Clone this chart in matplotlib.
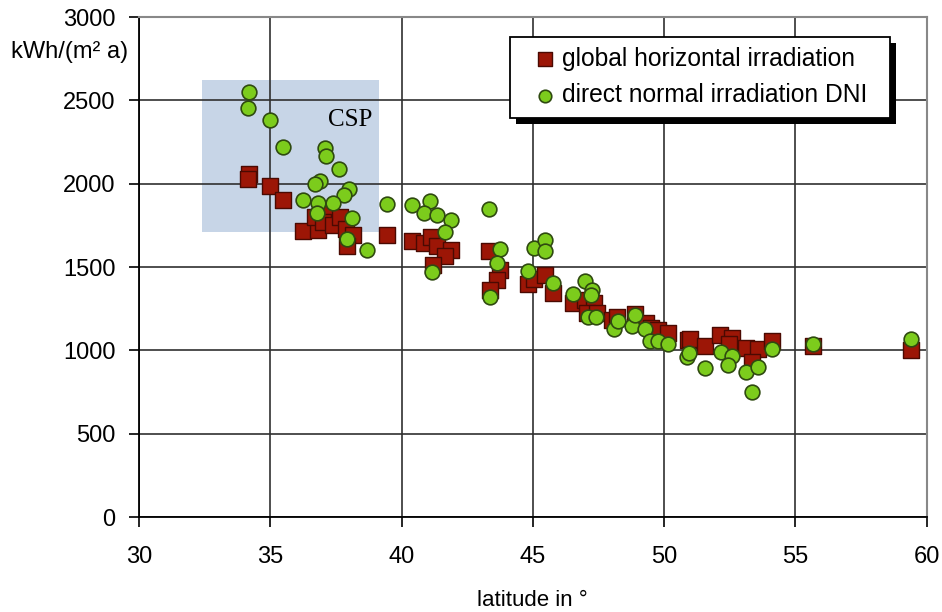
import matplotlib
matplotlib.use("Agg")
import matplotlib.pyplot as plt
from matplotlib.patches import Rectangle

plt.rcParams['font.family'] = ['Liberation Sans', 'DejaVu Sans']

# ---- data ----
ghi_lat = [34.2, 34.14, 34.98, 35.48, 36.24, 36.82, 36.69, 37.13, 37.0, 37.39,
           37.64, 37.9, 38.15, 37.94, 39.43,
           40.38, 40.84, 41.12, 41.35, 41.9, 41.65, 41.2, 43.32, 43.76, 43.63,
           43.37, 44.81, 45.06, 45.48, 45.78, 46.52, 46.97, 47.32, 47.07, 47.45,
           48.0, 48.2, 48.91, 49.3, 49.49, 49.77, 50.16, 50.9, 50.97, 51.55,
           52.14, 52.57, 52.48, 53.12, 53.59, 53.34, 54.11, 55.69, 59.4]
ghi_val = [2058, 2030, 1988, 1902, 1716, 1722, 1800, 1842, 1772, 1755,
           1802, 1730, 1692, 1625, 1692,
           1656, 1646, 1682, 1627, 1602, 1568, 1512, 1596, 1483, 1423,
           1365, 1396, 1428, 1452, 1342, 1282, 1304, 1282, 1226, 1222,
           1182, 1202, 1220, 1162, 1132, 1122, 1107, 1064, 1068, 1027,
           1090, 1072, 1038, 1016, 1007, 933, 1058, 1026, 1004]

dni_lat = [34.2, 34.15, 34.98, 35.48, 37.10, 37.12, 37.62, 36.88, 36.69, 38.0,
           37.81, 36.24, 36.82, 37.39, 36.79, 38.11, 37.94, 38.70, 39.43,
           40.38, 41.1, 40.84, 41.35, 41.88, 41.65, 41.17, 43.33, 43.76, 43.63,
           43.37, 45.06, 45.48, 45.48, 44.81, 45.78, 46.53, 46.97, 47.25, 47.2,
           47.09, 47.41, 48.11, 48.25, 48.76, 48.91, 49.26, 49.45, 49.77, 50.15,
           50.86, 50.95, 51.54, 52.15, 52.59, 52.45, 53.12, 53.57, 53.34, 54.12,
           55.69, 59.4]
dni_val = [2552, 2455, 2380, 2218, 2212, 2165, 2088, 2018, 1998, 1966,
           1932, 1902, 1886, 1886, 1825, 1792, 1670, 1602, 1876,
           1874, 1896, 1822, 1812, 1781, 1708, 1472, 1851, 1608, 1526,
           1319, 1616, 1662, 1596, 1476, 1402, 1336, 1416, 1362, 1332,
           1198, 1198, 1126, 1174, 1148, 1214, 1127, 1057, 1057, 1037,
           962, 982, 893, 993, 966, 912, 872, 902, 752, 1011,
           1036, 1068]

series_labels = ["global horizontal irradiation", "direct normal irradiation DNI"]
csp_lat = (32.4, 39.15)
csp_val = (1712, 2622)
x_ticks = [30, 35, 40, 45, 50, 55, 60]
y_ticks = [0, 500, 1000, 1500, 2000, 2500, 3000]

# ---- figure ----
fig = plt.figure(figsize=(9.42, 6.12), dpi=100)
ax = fig.add_axes([0.1476, 0.1552, 0.9837 - 0.1476, 0.9722 - 0.1552])

ax.set_xlim(30, 60)
ax.set_ylim(0, 3000)
ax.set_xticks(x_ticks)
ax.set_yticks(y_ticks)
ax.grid(True, color='#303030', linewidth=1.2)
ax.set_axisbelow(True)

ax.add_patch(Rectangle((csp_lat[0], csp_val[0]), csp_lat[1] - csp_lat[0],
                       csp_val[1] - csp_val[0], facecolor='#b0c4de', alpha=0.7,
                       edgecolor='none', zorder=0.4))
ax.text(37.21, 2346, "CSP", family='Liberation Serif', fontsize=18,
        ha='left', va='baseline', zorder=3)

ax.scatter(ghi_lat, ghi_val, marker='s', s=140, facecolor='#9c1606',
           edgecolor='#4a0a02', linewidth=1.0, zorder=3, label=series_labels[0])
ax.scatter(dni_lat, dni_val, marker='o', s=112, facecolor='#7ccc1c',
           edgecolor='#2f4a10', linewidth=1.2, zorder=4, label=series_labels[1])

for s in ['left', 'bottom']:
    ax.spines[s].set_color('black')
    ax.spines[s].set_linewidth(1.3)
for s in ['top', 'right']:
    ax.spines[s].set_color('#888888')
    ax.spines[s].set_linewidth(1.5)

ax.tick_params(axis='both', direction='out', length=7, width=1.2,
               labelsize=17, color='black')
ax.tick_params(axis='x', pad=14)
ax.tick_params(axis='y', pad=10)

ax.set_xlabel("latitude in °", fontsize=16, labelpad=16)
ax.text(-0.014, 2790, "kWh/(m² a)", transform=ax.get_yaxis_transform(),
        ha='right', va='center', fontsize=17)

# legend box (frame + shadow drawn as patches in axes coordinates)
bx0, bx1, by0, by1 = 0.4708, 0.9530, 0.798, 0.960
sh_x, sh_y = 6 / 788, 6 / 500
ax.add_patch(Rectangle((bx0 + sh_x, by0 - sh_y), bx1 - bx0, by1 - by0,
                       transform=ax.transAxes, facecolor='black',
                       edgecolor='none', zorder=5.8, clip_on=False))
ax.add_patch(Rectangle((bx0, by0), bx1 - bx0, by1 - by0,
                       transform=ax.transAxes, facecolor='white',
                       edgecolor='black', linewidth=1.3, zorder=5.9,
                       clip_on=False))

leg = ax.legend(loc='center left', bbox_to_anchor=(0.5025, 0.880),
                fontsize=17.7, frameon=False, markerscale=0.85,
                handletextpad=0.31, borderpad=0, labelspacing=0.5,
                handlelength=0.8, borderaxespad=0)
leg.set_zorder(6)

fig.savefig("out.png", dpi=100)
